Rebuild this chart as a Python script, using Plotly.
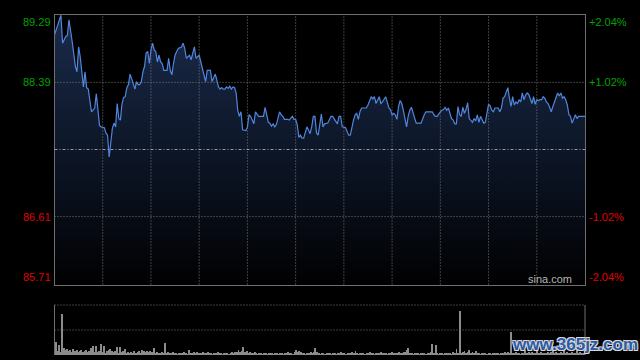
import plotly.graph_objects as go

PREV_CLOSE = 87.50
Y_MIN, Y_MAX = 85.71, 89.29
PRICE_LEVELS = [89.29, 88.39, 86.61, 85.71]
PRICE_LABELS = ["89.29", "88.39", "86.61", "85.71"]
PCT_LABELS = ["+2.04%", "+1.02%", "-1.02%", "-2.04%"]
LABEL_COLORS = ["#00a000", "#00a000", "#e00000", "#e00000"]
GRID_MINUTES = [30, 60, 90, 120, 150, 180, 210, 240, 270, 300]
SESSION_MINUTES = 330
VOL_AXIS_MAX = 100

MINUTES = [
    0, 4, 5, 7, 8, 9, 11, 13, 14, 15, 16, 18, 19, 20, 21, 22, 23, 25, 26, 28,
    29, 31, 32, 33, 34, 36, 37, 38, 39, 40, 41, 42, 43, 44, 45, 46, 47, 48, 49, 50,
    51, 52, 53, 54, 55, 56, 57, 58, 59, 60, 61, 62, 63, 64, 65, 66, 67, 68, 70, 71,
    72, 73, 74, 75, 76, 77, 79, 80, 81, 82, 83, 84, 85, 86, 87, 88, 90, 91, 92, 93,
    94, 95, 97, 98, 99, 100, 101, 102, 103, 104, 105, 106, 107, 108, 109, 110, 111, 112, 113, 114,
    115, 116, 117, 119, 120, 121, 122, 123, 124, 125, 126, 127, 130, 131, 132, 133, 134, 135, 136, 137,
    138, 139, 140, 141, 142, 143, 145, 146, 148, 149, 150, 151, 152, 153, 154, 155, 156, 157, 158, 159,
    160, 161, 162, 163, 164, 166, 167, 168, 170, 171, 172, 173, 174, 176, 177, 178, 179, 181, 182, 183,
    184, 185, 186, 187, 188, 189, 190, 191, 194, 195, 196, 197, 198, 199, 200, 201, 202, 203, 204, 206,
    207, 208, 209, 210, 211, 212, 213, 214, 215, 216, 217, 218, 219, 220, 221, 222, 223, 224, 225, 228,
    229, 230, 231, 235, 236, 237, 238, 239, 240, 241, 242, 243, 244, 245, 246, 247, 248, 249, 250, 251,
    252, 253, 254, 255, 256, 257, 258, 259, 260, 261, 262, 263, 264, 265, 266, 267, 268, 269, 270, 271,
    272, 273, 274, 276, 277, 278, 279, 280, 281, 282, 283, 284, 285, 286, 287, 288, 289, 290, 291, 292,
    293, 294, 295, 296, 297, 298, 299, 300, 301, 302, 303, 304, 305, 306, 307, 308, 309, 310, 311, 312,
    313, 314, 315, 316, 317, 318, 319, 320, 321, 322, 323, 324, 325, 326, 328, 330,
]
PRICES = [
    89.02, 89.28, 88.91, 89.00, 89.01, 89.22, 88.93, 88.60, 88.53, 88.86, 88.73, 88.33, 88.53, 88.32, 88.30, 88.13, 88.00, 88.05, 88.24, 87.82,
    87.80, 87.79, 87.72, 87.69, 87.40, 87.78, 87.85, 87.80, 88.11, 87.91, 87.89, 88.11, 88.19, 88.20, 88.32, 88.36, 88.50, 88.44, 88.36, 88.30,
    88.40, 88.36, 88.36, 88.40, 88.53, 88.60, 88.78, 88.80, 88.64, 88.82, 88.91, 88.82, 88.80, 88.66, 88.75, 88.66, 88.64, 88.55, 88.55, 88.71,
    88.55, 88.49, 88.64, 88.75, 88.80, 88.84, 88.86, 88.91, 88.84, 88.71, 88.73, 88.75, 88.69, 88.78, 88.86, 88.71, 88.75, 88.66, 88.58, 88.47,
    88.40, 88.55, 88.55, 88.40, 88.44, 88.50, 88.42, 88.33, 88.30, 88.32, 88.30, 88.30, 88.33, 88.31, 88.34, 88.30, 88.33, 88.32, 88.25, 88.02,
    87.94, 88.00, 87.76, 87.75, 87.80, 87.96, 87.94, 87.90, 87.84, 88.00, 87.96, 87.94, 87.94, 88.06, 87.96, 87.86, 87.85, 87.81, 87.84, 87.80,
    87.83, 87.90, 88.00, 87.96, 87.94, 87.90, 87.90, 87.89, 87.94, 87.90, 87.90, 87.83, 87.66, 87.69, 87.65, 87.65, 87.72, 87.80, 87.76, 87.71,
    87.80, 87.94, 87.94, 87.72, 87.69, 87.97, 87.80, 87.84, 87.85, 87.89, 87.94, 87.94, 87.90, 87.84, 87.94, 87.94, 87.80, 87.79, 87.74, 87.69,
    87.69, 87.80, 87.89, 87.96, 87.98, 87.90, 88.00, 88.05, 88.05, 88.09, 88.16, 88.20, 88.17, 88.20, 88.11, 88.16, 88.20, 88.11, 88.13, 88.20,
    88.13, 88.05, 88.03, 87.96, 87.98, 87.96, 87.90, 88.07, 88.15, 88.11, 88.02, 87.91, 87.80, 87.94, 88.02, 88.06, 87.98, 87.91, 87.85, 87.85,
    87.91, 87.96, 88.00, 88.00, 87.96, 87.94, 87.94, 87.98, 88.00, 88.02, 88.03, 88.06, 88.02, 88.05, 87.98, 87.91, 87.89, 87.84, 87.84, 88.07,
    87.96, 87.94, 88.06, 87.98, 88.03, 88.12, 87.91, 87.89, 87.86, 87.91, 87.88, 87.96, 87.86, 87.94, 87.89, 87.85, 87.86, 87.98, 88.10, 88.08,
    88.02, 88.00, 88.05, 88.05, 88.00, 88.05, 88.18, 88.20, 88.25, 88.32, 88.18, 88.07, 88.20, 88.09, 88.13, 88.11, 88.16, 88.13, 88.25, 88.16,
    88.22, 88.25, 88.23, 88.16, 88.11, 88.20, 88.10, 88.16, 88.15, 88.16, 88.16, 88.20, 88.18, 88.13, 88.11, 88.06, 88.00, 88.07, 88.13, 88.20,
    88.25, 88.21, 88.25, 88.18, 88.20, 88.16, 88.09, 87.96, 87.94, 87.85, 87.91, 87.96, 87.91, 87.94, 87.94, 87.94,
]

# volume per minute (thousand shares), minutes 0..330
VOLUMES = [
    26, 8, 20, 6, 82, 14, 10, 12, 8, 10, 6, 12, 8, 10, 6, 8, 10, 6, 8, 10,
    6, 8, 14, 18, 6, 18, 6, 8, 22, 6, 18, 4, 8, 10, 12, 8, 6, 8, 16, 4,
    16, 6, 8, 12, 4, 6, 4, 6, 4, 8, 4, 6, 8, 4, 10, 8, 6, 8, 6, 8,
    6, 14, 4, 6, 4, 4, 6, 4, 24, 4, 6, 4, 4, 6, 4, 4, 2, 4, 4, 4,
    6, 4, 2, 10, 4, 4, 6, 4, 6, 4, 4, 4, 6, 4, 4, 6, 4, 4, 2, 4,
    4, 6, 4, 4, 2, 4, 4, 4, 2, 4, 6, 4, 6, 6, 10, 6, 8, 16, 6, 8,
    4, 6, 4, 4, 6, 4, 2, 4, 4, 2, 4, 4, 2, 4, 4, 4, 2, 4, 4, 2,
    4, 4, 2, 4, 4, 6, 4, 4, 2, 6, 10, 6, 8, 6, 4, 4, 2, 4, 4, 6,
    4, 6, 14, 6, 4, 2, 4, 4, 2, 4, 4, 4, 2, 4, 4, 2, 4, 4, 6, 4,
    4, 2, 4, 4, 4, 6, 4, 8, 4, 2, 4, 4, 4, 2, 4, 4, 6, 4, 4, 2,
    4, 4, 4, 6, 4, 4, 4, 2, 4, 4, 6, 4, 4, 4, 6, 4, 4, 6, 6, 10,
    14, 4, 4, 2, 4, 4, 4, 2, 4, 4, 4, 2, 4, 4, 6, 22, 4, 20, 4, 2,
    4, 4, 2, 4, 4, 4, 4, 2, 6, 4, 12, 4, 88, 4, 6, 8, 4, 6, 10, 4,
    6, 4, 8, 4, 4, 2, 4, 4, 4, 2, 4, 4, 2, 4, 4, 4, 4, 2, 4, 4,
    6, 4, 6, 4, 46, 4, 4, 6, 4, 4, 2, 4, 4, 10, 4, 6, 4, 6, 4, 4,
    10, 4, 4, 6, 4, 4, 4, 6, 4, 6, 14, 4, 6, 4, 4, 6, 4, 10, 4, 6,
    4, 4, 6, 4, 4, 10, 4, 6, 4, 4, 6,
]
VOL_MINUTES = list(range(len(VOLUMES)))

W, H = 640, 360
OFF = 0  # page margin is removed by the post script below


def fx(px):
    return (px - OFF) / W


def fy(py):
    return (H - (py - OFF)) / H


X_DOM = [fx(54.5), fx(585)]
MAIN_DOM = [fy(284.5), fy(14.5)]
VOL_DOM = [fy(355), fy(305)]

GRID_COLOR = "#7a7a7a"
BORDER_COLOR = "#6e6e6e"
DOT = "1px,2px"
FONT = "Liberation Sans, Arial, sans-serif"

fig = go.Figure()

fig.add_trace(go.Scatter(
    x=MINUTES, y=PRICES, mode="lines",
    line=dict(color="#4f86de", width=1.2),
    fill="tozeroy",
    fillgradient=dict(
        type="vertical", start=Y_MIN, stop=Y_MAX,
        colorscale=[[0, "#010102"], [0.5, "#0d1628"], [1, "#1b2b4b"]],
    ),
    xaxis="x", yaxis="y", hoverinfo="skip", showlegend=False,
))

fig.add_trace(go.Bar(
    x=VOL_MINUTES, y=VOLUMES, width=0.6,
    marker=dict(color="#8c8c8c", line=dict(width=0)),
    xaxis="x2", yaxis="y2", hoverinfo="skip", showlegend=False,
))

shapes = []
for m in GRID_MINUTES:
    shapes.append(dict(type="line", xref="x", yref="y domain", x0=m, x1=m, y0=0, y1=1,
                       line=dict(color=GRID_COLOR, width=1, dash=DOT), layer="above"))
for lvl in PRICE_LEVELS[1:3]:
    shapes.append(dict(type="line", xref="x domain", yref="y", x0=0, x1=1, y0=lvl, y1=lvl,
                       line=dict(color=GRID_COLOR, width=1, dash=DOT), layer="above"))
shapes.append(dict(type="line", xref="x domain", yref="y", x0=0, x1=1, y0=PREV_CLOSE, y1=PREV_CLOSE,
                   line=dict(color="#9a9a9a", width=1, dash="3px,2px,1px,2px"), layer="above"))
shapes.append(dict(type="line", xref="x2 domain", yref="y2 domain", x0=0, x1=1, y0=1, y1=1,
                   line=dict(color=GRID_COLOR, width=1, dash=DOT)))
shapes.append(dict(type="line", xref="x2 domain", yref="y2", x0=0, x1=1,
                   y0=VOL_AXIS_MAX / 2, y1=VOL_AXIS_MAX / 2,
                   line=dict(color=GRID_COLOR, width=1, dash=DOT)))
for xx in (0, 1):
    shapes.append(dict(type="line", xref="x2 domain", yref="y2 domain", x0=xx, x1=xx, y0=0, y1=1,
                       line=dict(color=BORDER_COLOR, width=1)))

annotations = []
anchors = ["top", "middle", "middle", "bottom"]
for lvl, lab, pct, col, anc in zip(PRICE_LEVELS, PRICE_LABELS, PCT_LABELS, LABEL_COLORS, anchors):
    annotations.append(dict(xref="paper", yref="y", x=X_DOM[0], y=lvl, text=lab, showarrow=False,
                            xanchor="right", yanchor=anc, xshift=-2,
                            font=dict(family=FONT, size=11, color=col)))
    annotations.append(dict(xref="paper", yref="y", x=X_DOM[1], y=lvl, text=pct, showarrow=False,
                            xanchor="left", yanchor=anc, xshift=2,
                            font=dict(family=FONT, size=11, color=col)))

annotations.append(dict(xref="paper", yref="paper", x=fx(574), y=fy(279), text="sina.com",
                        showarrow=False, xanchor="right", yanchor="middle",
                        font=dict(family=FONT, size=11, color="#b4b4b4")))
annotations.append(dict(xref="paper", yref="paper", x=fx(575), y=fy(344), text="<b>www.365jz.com</b>",
                        showarrow=False, xanchor="center", yanchor="middle",
                        font=dict(family=FONT, size=17, color="#2a5aa8",
                                  shadow="1px 1px 0 #d8d8d8, -1px -1px 0 #d8d8d8, 1px -1px 0 #d8d8d8, -1px 1px 0 #d8d8d8")))

fig.update_layout(
    width=W, height=H, autosize=False,
    margin=dict(l=0, r=0, t=0, b=0, pad=0),
    paper_bgcolor="#000000", plot_bgcolor="#000000",
    showlegend=False,
    xaxis=dict(domain=X_DOM, range=[0, SESSION_MINUTES], showgrid=False, zeroline=False,
               showticklabels=False, ticks="", showline=True, mirror=True,
               linecolor=BORDER_COLOR, linewidth=1, fixedrange=True),
    yaxis=dict(domain=MAIN_DOM, range=[Y_MIN, Y_MAX], showgrid=False, zeroline=False,
               showticklabels=False, ticks="", showline=True, mirror=True,
               linecolor=BORDER_COLOR, linewidth=1, fixedrange=True),
    xaxis2=dict(domain=X_DOM, range=[-0.5, SESSION_MINUTES + 0.5], anchor="y2", showgrid=False,
                zeroline=False, showticklabels=False, ticks="", showline=False, fixedrange=True),
    yaxis2=dict(domain=VOL_DOM, range=[0, VOL_AXIS_MAX], anchor="x2", showgrid=False,
                zeroline=False, showticklabels=False, ticks="", showline=False, fixedrange=True),
    bargap=0,
    shapes=shapes,
    annotations=annotations,
)

POST = ("document.documentElement.style.background='#000';"
        "document.body.style.margin='0';document.body.style.background='#000';"
        "document.body.style.overflow='hidden';")

fig.write_html("out.html", post_script=POST, config={"displayModeBar": False})
